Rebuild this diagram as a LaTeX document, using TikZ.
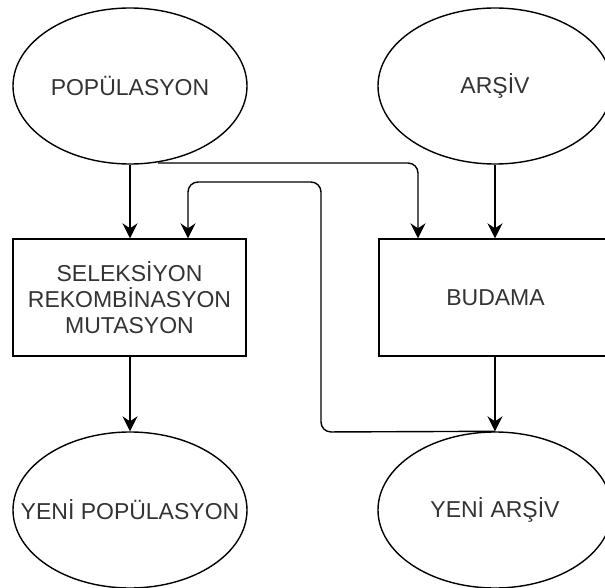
\documentclass[tikz,border=0pt]{standalone}
\usepackage{fontspec}
\setmainfont{Liberation Sans}
\usetikzlibrary{shapes.geometric,arrows.meta,calc}
\definecolor{txt}{HTML}{333333}
\tikzset{
  lbl/.style={text=txt, font=\fontsize{23}{26}\selectfont, inner sep=0pt},
  ell/.style={draw, line width=1.4pt, ellipse, minimum width=234pt, minimum height=156pt, inner sep=0pt},
  box/.style={draw, line width=1.4pt, rectangle, minimum width=233pt, minimum height=117pt, inner sep=0pt, align=center, text=txt, font=\fontsize{23}{26}\selectfont},
  conn/.style={line width=1.4pt, rounded corners=10pt, -{Stealth[length=15pt,width=15pt,inset=5pt]}}
}
\begin{document}
\begin{tikzpicture}[x=1pt,y=-1pt]
\useasboundingbox (0,0) rectangle (605,588);
\clip (0,0) rectangle (605,588);
\node[ell, label={[lbl]center:POPÜLASYON}] (pop) at (130,86) {};
\node[ell, label={[lbl]center:ARŞİV}] (ars) at (495,86) {};
\node[box] (sel) at (129.5,297.5) {SELEKSİYON\\REKOMBİNASYON\\MUTASYON};
\node[box] (bud) at (495.5,297.5) {BUDAMA};
\node[ell, label={[lbl]center:YENİ POPÜLASYON}] (ypop) at (130,510) {};
\node[ell, label={[lbl]center:YENİ ARŞİV}] (yars) at (495,510) {};
\coordinate (p1) at (418,163);
\coordinate (p0) at (158,163);
\coordinate (w1) at (321,432);
\coordinate (w2) at (321,182);
\coordinate (w3) at (188,182);
\draw[conn] (pop.south) -- (sel.north -| pop.south);
\draw[conn] (ars.south) -- (bud.north -| ars.south);
\draw[conn] (p0) -- (p1) -- (bud.north -| p1);
\draw[conn] (yars.north) -- (w1) -- (w2) -- (w3) -- (sel.north -| w3);
\draw[conn] (sel.south -| ypop.north) -- (ypop.north);
\draw[conn] (bud.south -| yars.north) -- (yars.north);
\end{tikzpicture}
\end{document}
